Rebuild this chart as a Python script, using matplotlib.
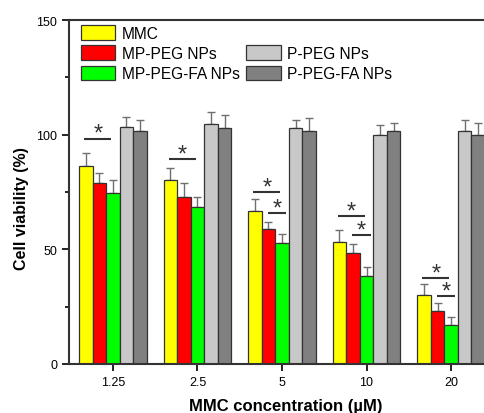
import matplotlib
matplotlib.use("Agg")
import matplotlib.pyplot as plt
from matplotlib.patches import Patch
from matplotlib.ticker import MultipleLocator
import numpy as np

plt.rcParams['font.family'] = ['Liberation Sans', 'DejaVu Sans']

concentrations = ["1.25", "2.5", "5", "10", "20"]
series_names = ["MMC", "MP-PEG NPs", "MP-PEG-FA NPs", "P-PEG NPs", "P-PEG-FA NPs"]
mmc = [86.5, 80.2, 66.9, 53.1, 30.1]
mp_peg = [78.8, 72.7, 58.7, 48.3, 23.2]
mp_peg_fa = [74.4, 68.5, 52.9, 38.5, 17.0]
p_peg = [103.2, 104.5, 102.8, 99.7, 101.6]
p_peg_fa = [101.5, 102.8, 101.6, 101.5, 99.9]
mmc_err = [5.5, 5.1, 4.9, 5.5, 4.7]
mp_peg_err = [4.6, 6.2, 3.1, 3.9, 3.5]
mp_peg_fa_err = [5.8, 4.5, 3.7, 3.7, 3.6]
p_peg_err = [4.4, 5.3, 3.7, 4.7, 4.8]
p_peg_fa_err = [4.8, 5.6, 5.8, 3.6, 5.1]
# significance: (group index, first bar, last bar, line level)
sig_marks = [(0, 0, 2, 98.3), (1, 0, 2, 89.5), (2, 0, 2, 75.0), (2, 1, 2, 65.9),
             (3, 0, 2, 64.5), (3, 1, 2, 56.3), (4, 0, 2, 37.5), (4, 1, 2, 29.8)]

values = [mmc, mp_peg, mp_peg_fa, p_peg, p_peg_fa]
errors = [mmc_err, mp_peg_err, mp_peg_fa_err, p_peg_err, p_peg_fa_err]
colors = ["#ffff00", "#ff0000", "#00ff00", "#c8c8c8", "#808080"]

fig = plt.figure(figsize=(4.84, 4.14), dpi=100)
ax = fig.add_axes([69/484, 1-365/414, (495-69)/484, (365-21)/414])

x = np.arange(len(concentrations))
w = 0.16
for i, (vals, errs, c) in enumerate(zip(values, errors, colors)):
    pos = x + (i - 2) * w
    ax.bar(pos, vals, width=w, color=c, edgecolor="#333333", linewidth=0.9, label=series_names[i], zorder=2)
    ax.errorbar(pos, vals, yerr=[np.zeros(len(errs)), errs], fmt='none', ecolor="#707070",
                elinewidth=1.0, capsize=3, capthick=1.0, zorder=1)

for g, b0, b1, lvl in sig_marks:
    if b0 == 0:
        xs = x[g] + (b0 - 2) * w - 0.02
        xe = x[g] + (b1 - 2) * w - 0.02
    else:
        xs = x[g] + (b0 - 2) * w - 0.01
        xe = x[g] + (b1 - 2) * w + 0.05
    ax.plot([xs, xe], [lvl, lvl], color="#333333", lw=1.5, solid_capstyle='butt', zorder=3)
    ax.text((xs + xe) / 2, lvl - 2.8, "*", ha='center', va='bottom', fontsize=17, color="#333333")

ax.set_xlim(-0.52, 4.52)
ax.set_ylim(0, 150)
ax.set_xticks(x)
ax.set_xticklabels(concentrations, fontsize=9)
ax.yaxis.set_major_locator(MultipleLocator(50))
ax.yaxis.set_minor_locator(MultipleLocator(25))
ax.tick_params(axis='y', which='major', length=5, width=1.2, labelsize=9, direction='out')
ax.tick_params(axis='y', which='minor', length=3, width=1.2, direction='out')
ax.tick_params(axis='x', which='major', length=5, width=1.2, labelsize=9, direction='out')
for s in ax.spines.values():
    s.set_linewidth(1.5)
    s.set_color("#333333")
ax.set_ylabel("Cell viability (%)", fontsize=11.5, fontweight='bold')
ax.yaxis.set_label_coords(-0.094, 0.456)
ax.set_xlabel("MMC concentration (µM)", fontsize=12, fontweight='bold')
ax.xaxis.set_label_coords(0.508, -0.098)

handles, labels = ax.get_legend_handles_labels()
blank = Patch(visible=False)
h = [handles[0], handles[1], handles[2], blank, handles[3], handles[4]]
l = [labels[0], labels[1], labels[2], "", labels[3], labels[4]]
leg = ax.legend(h, l, ncol=2, loc='upper left', bbox_to_anchor=(0.012, 1.005), frameon=False,
                fontsize=11.2, handlelength=2.2, handleheight=1.05, handletextpad=0.4,
                labelspacing=0.3, columnspacing=0.45, borderaxespad=0.05)

fig.savefig("out.png", dpi=100)
